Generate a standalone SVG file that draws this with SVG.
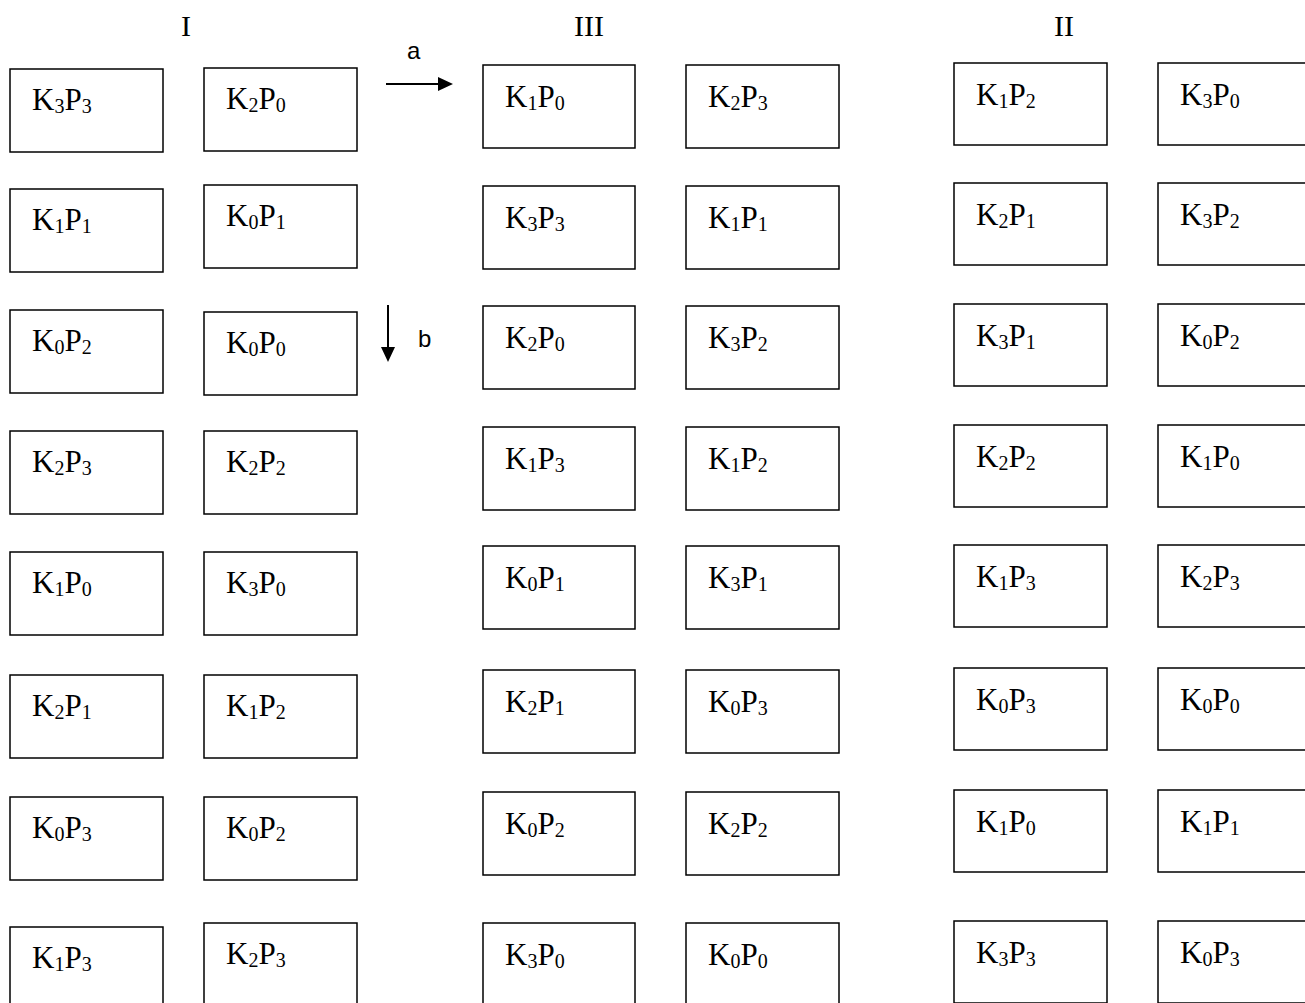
<svg xmlns="http://www.w3.org/2000/svg" width="1305" height="1003" viewBox="0 0 1305 1003">
<style>
rect.n{fill:#fff;stroke:#000;stroke-width:1.5}
text.k{font-family:"Liberation Serif","Times New Roman",serif;font-size:31px;fill:#000}
tspan.s{font-size:20px}
text.h{font-family:"Liberation Serif","Times New Roman",serif;font-size:30px;fill:#000;text-anchor:middle}
text.l{font-family:"Liberation Sans",Arial,sans-serif;font-size:24px;fill:#000}
line.c{stroke:#000;stroke-width:2}
</style>
<defs>
<marker id="ah" viewBox="0 0 15 14" refX="0" refY="7" markerWidth="15" markerHeight="14" markerUnits="userSpaceOnUse" orient="auto">
<path d="M0,0 L15,7 L0,14 z" fill="#000"/>
</marker>
</defs>
<g id="headers">
<text class="h" x="186" y="36">I</text>
<text class="h" x="589" y="36">III</text>
<text class="h" x="1064" y="36">II</text>
</g>
<g id="connectors">
<line class="c" x1="386" y1="84" x2="438" y2="84" marker-end="url(#ah)"/>
<text class="l" x="407" y="59">a</text>
<line class="c" x1="388" y1="305" x2="388" y2="347" marker-end="url(#ah)"/>
<text class="l" x="418" y="347">b</text>
</g>
<g id="I-L1"><rect class="n" x="10" y="69" width="153" height="83"/><text class="k" x="32" y="110">K<tspan class="s" dy="3">3</tspan><tspan dy="-3">P</tspan><tspan class="s" dy="3">3</tspan></text></g>
<g id="I-L2"><rect class="n" x="10" y="189" width="153" height="83"/><text class="k" x="32" y="230">K<tspan class="s" dy="3">1</tspan><tspan dy="-3">P</tspan><tspan class="s" dy="3">1</tspan></text></g>
<g id="I-L3"><rect class="n" x="10" y="310" width="153" height="83"/><text class="k" x="32" y="351">K<tspan class="s" dy="3">0</tspan><tspan dy="-3">P</tspan><tspan class="s" dy="3">2</tspan></text></g>
<g id="I-L4"><rect class="n" x="10" y="431" width="153" height="83"/><text class="k" x="32" y="472">K<tspan class="s" dy="3">2</tspan><tspan dy="-3">P</tspan><tspan class="s" dy="3">3</tspan></text></g>
<g id="I-L5"><rect class="n" x="10" y="552" width="153" height="83"/><text class="k" x="32" y="593">K<tspan class="s" dy="3">1</tspan><tspan dy="-3">P</tspan><tspan class="s" dy="3">0</tspan></text></g>
<g id="I-L6"><rect class="n" x="10" y="675" width="153" height="83"/><text class="k" x="32" y="716">K<tspan class="s" dy="3">2</tspan><tspan dy="-3">P</tspan><tspan class="s" dy="3">1</tspan></text></g>
<g id="I-L7"><rect class="n" x="10" y="797" width="153" height="83"/><text class="k" x="32" y="838">K<tspan class="s" dy="3">0</tspan><tspan dy="-3">P</tspan><tspan class="s" dy="3">3</tspan></text></g>
<g id="I-L8"><rect class="n" x="10" y="927" width="153" height="83"/><text class="k" x="32" y="968">K<tspan class="s" dy="3">1</tspan><tspan dy="-3">P</tspan><tspan class="s" dy="3">3</tspan></text></g>
<g id="I-R1"><rect class="n" x="204" y="68" width="153" height="83"/><text class="k" x="226" y="109">K<tspan class="s" dy="3">2</tspan><tspan dy="-3">P</tspan><tspan class="s" dy="3">0</tspan></text></g>
<g id="I-R2"><rect class="n" x="204" y="185" width="153" height="83"/><text class="k" x="226" y="226">K<tspan class="s" dy="3">0</tspan><tspan dy="-3">P</tspan><tspan class="s" dy="3">1</tspan></text></g>
<g id="I-R3"><rect class="n" x="204" y="312" width="153" height="83"/><text class="k" x="226" y="353">K<tspan class="s" dy="3">0</tspan><tspan dy="-3">P</tspan><tspan class="s" dy="3">0</tspan></text></g>
<g id="I-R4"><rect class="n" x="204" y="431" width="153" height="83"/><text class="k" x="226" y="472">K<tspan class="s" dy="3">2</tspan><tspan dy="-3">P</tspan><tspan class="s" dy="3">2</tspan></text></g>
<g id="I-R5"><rect class="n" x="204" y="552" width="153" height="83"/><text class="k" x="226" y="593">K<tspan class="s" dy="3">3</tspan><tspan dy="-3">P</tspan><tspan class="s" dy="3">0</tspan></text></g>
<g id="I-R6"><rect class="n" x="204" y="675" width="153" height="83"/><text class="k" x="226" y="716">K<tspan class="s" dy="3">1</tspan><tspan dy="-3">P</tspan><tspan class="s" dy="3">2</tspan></text></g>
<g id="I-R7"><rect class="n" x="204" y="797" width="153" height="83"/><text class="k" x="226" y="838">K<tspan class="s" dy="3">0</tspan><tspan dy="-3">P</tspan><tspan class="s" dy="3">2</tspan></text></g>
<g id="I-R8"><rect class="n" x="204" y="923" width="153" height="83"/><text class="k" x="226" y="964">K<tspan class="s" dy="3">2</tspan><tspan dy="-3">P</tspan><tspan class="s" dy="3">3</tspan></text></g>
<g id="III-L1"><rect class="n" x="483" y="65" width="152" height="83"/><text class="k" x="505" y="107">K<tspan class="s" dy="3">1</tspan><tspan dy="-3">P</tspan><tspan class="s" dy="3">0</tspan></text></g>
<g id="III-L2"><rect class="n" x="483" y="186" width="152" height="83"/><text class="k" x="505" y="228">K<tspan class="s" dy="3">3</tspan><tspan dy="-3">P</tspan><tspan class="s" dy="3">3</tspan></text></g>
<g id="III-L3"><rect class="n" x="483" y="306" width="152" height="83"/><text class="k" x="505" y="348">K<tspan class="s" dy="3">2</tspan><tspan dy="-3">P</tspan><tspan class="s" dy="3">0</tspan></text></g>
<g id="III-L4"><rect class="n" x="483" y="427" width="152" height="83"/><text class="k" x="505" y="469">K<tspan class="s" dy="3">1</tspan><tspan dy="-3">P</tspan><tspan class="s" dy="3">3</tspan></text></g>
<g id="III-L5"><rect class="n" x="483" y="546" width="152" height="83"/><text class="k" x="505" y="588">K<tspan class="s" dy="3">0</tspan><tspan dy="-3">P</tspan><tspan class="s" dy="3">1</tspan></text></g>
<g id="III-L6"><rect class="n" x="483" y="670" width="152" height="83"/><text class="k" x="505" y="712">K<tspan class="s" dy="3">2</tspan><tspan dy="-3">P</tspan><tspan class="s" dy="3">1</tspan></text></g>
<g id="III-L7"><rect class="n" x="483" y="792" width="152" height="83"/><text class="k" x="505" y="834">K<tspan class="s" dy="3">0</tspan><tspan dy="-3">P</tspan><tspan class="s" dy="3">2</tspan></text></g>
<g id="III-L8"><rect class="n" x="483" y="923" width="152" height="83"/><text class="k" x="505" y="965">K<tspan class="s" dy="3">3</tspan><tspan dy="-3">P</tspan><tspan class="s" dy="3">0</tspan></text></g>
<g id="III-R1"><rect class="n" x="686" y="65" width="153" height="83"/><text class="k" x="708" y="107">K<tspan class="s" dy="3">2</tspan><tspan dy="-3">P</tspan><tspan class="s" dy="3">3</tspan></text></g>
<g id="III-R2"><rect class="n" x="686" y="186" width="153" height="83"/><text class="k" x="708" y="228">K<tspan class="s" dy="3">1</tspan><tspan dy="-3">P</tspan><tspan class="s" dy="3">1</tspan></text></g>
<g id="III-R3"><rect class="n" x="686" y="306" width="153" height="83"/><text class="k" x="708" y="348">K<tspan class="s" dy="3">3</tspan><tspan dy="-3">P</tspan><tspan class="s" dy="3">2</tspan></text></g>
<g id="III-R4"><rect class="n" x="686" y="427" width="153" height="83"/><text class="k" x="708" y="469">K<tspan class="s" dy="3">1</tspan><tspan dy="-3">P</tspan><tspan class="s" dy="3">2</tspan></text></g>
<g id="III-R5"><rect class="n" x="686" y="546" width="153" height="83"/><text class="k" x="708" y="588">K<tspan class="s" dy="3">3</tspan><tspan dy="-3">P</tspan><tspan class="s" dy="3">1</tspan></text></g>
<g id="III-R6"><rect class="n" x="686" y="670" width="153" height="83"/><text class="k" x="708" y="712">K<tspan class="s" dy="3">0</tspan><tspan dy="-3">P</tspan><tspan class="s" dy="3">3</tspan></text></g>
<g id="III-R7"><rect class="n" x="686" y="792" width="153" height="83"/><text class="k" x="708" y="834">K<tspan class="s" dy="3">2</tspan><tspan dy="-3">P</tspan><tspan class="s" dy="3">2</tspan></text></g>
<g id="III-R8"><rect class="n" x="686" y="923" width="153" height="83"/><text class="k" x="708" y="965">K<tspan class="s" dy="3">0</tspan><tspan dy="-3">P</tspan><tspan class="s" dy="3">0</tspan></text></g>
<g id="II-L1"><rect class="n" x="954" y="63" width="153" height="82"/><text class="k" x="976" y="105">K<tspan class="s" dy="3">1</tspan><tspan dy="-3">P</tspan><tspan class="s" dy="3">2</tspan></text></g>
<g id="II-L2"><rect class="n" x="954" y="183" width="153" height="82"/><text class="k" x="976" y="225">K<tspan class="s" dy="3">2</tspan><tspan dy="-3">P</tspan><tspan class="s" dy="3">1</tspan></text></g>
<g id="II-L3"><rect class="n" x="954" y="304" width="153" height="82"/><text class="k" x="976" y="346">K<tspan class="s" dy="3">3</tspan><tspan dy="-3">P</tspan><tspan class="s" dy="3">1</tspan></text></g>
<g id="II-L4"><rect class="n" x="954" y="425" width="153" height="82"/><text class="k" x="976" y="467">K<tspan class="s" dy="3">2</tspan><tspan dy="-3">P</tspan><tspan class="s" dy="3">2</tspan></text></g>
<g id="II-L5"><rect class="n" x="954" y="545" width="153" height="82"/><text class="k" x="976" y="587">K<tspan class="s" dy="3">1</tspan><tspan dy="-3">P</tspan><tspan class="s" dy="3">3</tspan></text></g>
<g id="II-L6"><rect class="n" x="954" y="668" width="153" height="82"/><text class="k" x="976" y="710">K<tspan class="s" dy="3">0</tspan><tspan dy="-3">P</tspan><tspan class="s" dy="3">3</tspan></text></g>
<g id="II-L7"><rect class="n" x="954" y="790" width="153" height="82"/><text class="k" x="976" y="832">K<tspan class="s" dy="3">1</tspan><tspan dy="-3">P</tspan><tspan class="s" dy="3">0</tspan></text></g>
<g id="II-L8"><rect class="n" x="954" y="921" width="153" height="82"/><text class="k" x="976" y="963">K<tspan class="s" dy="3">3</tspan><tspan dy="-3">P</tspan><tspan class="s" dy="3">3</tspan></text></g>
<g id="II-R1"><rect class="n" x="1158" y="63" width="153" height="82"/><text class="k" x="1180" y="105">K<tspan class="s" dy="3">3</tspan><tspan dy="-3">P</tspan><tspan class="s" dy="3">0</tspan></text></g>
<g id="II-R2"><rect class="n" x="1158" y="183" width="153" height="82"/><text class="k" x="1180" y="225">K<tspan class="s" dy="3">3</tspan><tspan dy="-3">P</tspan><tspan class="s" dy="3">2</tspan></text></g>
<g id="II-R3"><rect class="n" x="1158" y="304" width="153" height="82"/><text class="k" x="1180" y="346">K<tspan class="s" dy="3">0</tspan><tspan dy="-3">P</tspan><tspan class="s" dy="3">2</tspan></text></g>
<g id="II-R4"><rect class="n" x="1158" y="425" width="153" height="82"/><text class="k" x="1180" y="467">K<tspan class="s" dy="3">1</tspan><tspan dy="-3">P</tspan><tspan class="s" dy="3">0</tspan></text></g>
<g id="II-R5"><rect class="n" x="1158" y="545" width="153" height="82"/><text class="k" x="1180" y="587">K<tspan class="s" dy="3">2</tspan><tspan dy="-3">P</tspan><tspan class="s" dy="3">3</tspan></text></g>
<g id="II-R6"><rect class="n" x="1158" y="668" width="153" height="82"/><text class="k" x="1180" y="710">K<tspan class="s" dy="3">0</tspan><tspan dy="-3">P</tspan><tspan class="s" dy="3">0</tspan></text></g>
<g id="II-R7"><rect class="n" x="1158" y="790" width="153" height="82"/><text class="k" x="1180" y="832">K<tspan class="s" dy="3">1</tspan><tspan dy="-3">P</tspan><tspan class="s" dy="3">1</tspan></text></g>
<g id="II-R8"><rect class="n" x="1158" y="921" width="153" height="82"/><text class="k" x="1180" y="963">K<tspan class="s" dy="3">0</tspan><tspan dy="-3">P</tspan><tspan class="s" dy="3">3</tspan></text></g>
</svg>
